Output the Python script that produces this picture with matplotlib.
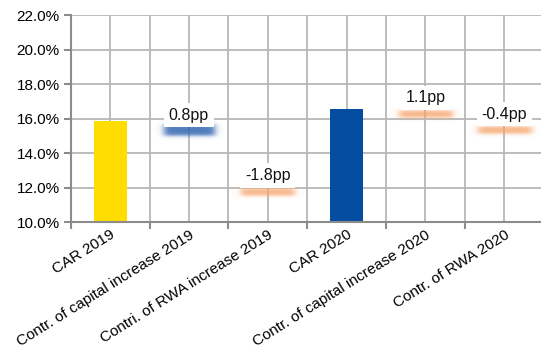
import matplotlib
matplotlib.use("Agg")
import matplotlib.pyplot as plt
import numpy as np
import matplotlib.colors as mcolors

categories = ["CAR 2019", "Contr. of capital increase 2019", "Contri. of RWA increase 2019",
              "CAR 2020", "Contr. of capital increase 2020", "Contr. of RWA 2020"]
car_values = [15.85, None, None, 16.55, None, None]          # % level of CAR bars
contrib_pp = [None, 0.8, -1.8, None, 1.1, -0.4]               # contributions in pp
contrib_level = [None, 15.3, 11.75, None, 16.25, 15.3]        # visual level of the floating markers
contrib_labels = ["", "0.8pp", "-1.8pp", "", "1.1pp", "-0.4pp"]
yticks = [10, 12, 14, 16, 18, 20, 22]

plt.rcParams['font.family'] = ['Liberation Sans', 'DejaVu Sans']

fig = plt.figure(figsize=(5.41, 3.53), dpi=100)
ax = fig.add_axes([0.1307, 0.371, 0.874, 0.5865])

base = 10
car_colors = {0: "#FFDD00", 3: "#054DA0"}
for i, v in enumerate(car_values):
    if v is not None:
        ax.bar(i, v - base, bottom=base, width=0.42, color=car_colors[i], zorder=3)


def glow(ax, xc, yc, color, hw=0.33, hh=0.2, sx=0.05, sy=0.12, amax=0.85):
    ex, ey = hw + 3 * sx, hh + 3 * sy
    xs = np.linspace(-ex, ex, 200)
    ys = np.linspace(-ey, ey, 120)
    ax_ = 0.5 * (np.tanh((xs + hw) / sx) - np.tanh((xs - hw) / sx))
    ay_ = 0.5 * (np.tanh((ys + hh) / sy) - np.tanh((ys - hh) / sy))
    a = np.outer(ay_, ax_) * amax
    rgb = mcolors.to_rgb(color)
    img = np.zeros((len(ys), len(xs), 4))
    img[..., 0], img[..., 1], img[..., 2] = rgb
    img[..., 3] = a
    ax.imshow(img, extent=(xc - ex, xc + ex, yc - ey, yc + ey), origin="lower",
              aspect="auto", zorder=3, interpolation="bilinear")


for i, (pp, lvl) in enumerate(zip(contrib_pp, contrib_level)):
    if pp is None:
        continue
    if i == 1:
        glow(ax, i, lvl, "#2F62B0", hw=0.32, hh=0.32, amax=0.85)
        off = 0.9
    else:
        glow(ax, i, lvl, "#F6A267", hw=0.34, hh=0.2, amax=0.8)
        off = 0.95
    ax.text(i, lvl + off, contrib_labels[i], ha="center", va="center", fontsize=11.5,
            color="#111111", zorder=5,
            bbox=dict(boxstyle="square,pad=0.3", fc="white", ec="none"))

ax.set_xlim(-0.5, 5.5)
ax.set_ylim(10, 22)
ax.set_yticks(yticks)
ax.set_yticklabels([f"{t:.1f}%" for t in yticks], fontsize=11)

ax.set_xticks(range(len(categories)))
ax.set_xticklabels(categories, rotation=32, ha="right", rotation_mode="anchor", fontsize=11)
ax.tick_params(axis="x", length=0, pad=4)
ax.set_xticks([i - 0.5 for i in range(len(categories) + 1)], minor=True)
ax.tick_params(axis="x", which="minor", length=5, width=1.5, color="#8c8c8c")
ax.tick_params(axis="y", length=5, width=1.5, color="#8c8c8c", pad=3)

ax.grid(True, which="major", axis="both", color="#b8b8b8", linewidth=1.3, zorder=0)
ax.grid(True, which="minor", axis="x", color="#b8b8b8", linewidth=1.3, zorder=0)
ax.set_axisbelow(True)

for s in ["top", "right"]:
    ax.spines[s].set_visible(False)
for s in ["left", "bottom"]:
    ax.spines[s].set_color("#8c8c8c")
    ax.spines[s].set_linewidth(1.5)
    ax.spines[s].set_zorder(4)

fig.savefig("out.png", dpi=100)
